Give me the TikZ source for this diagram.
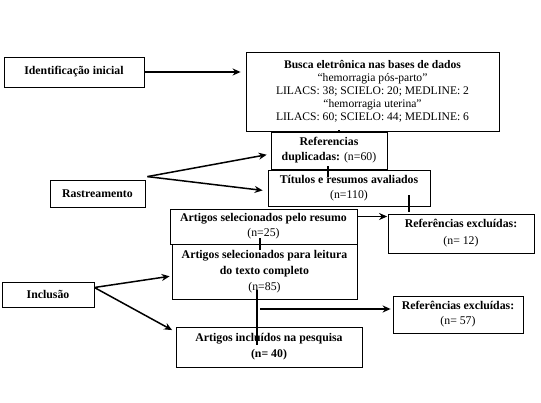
\documentclass[tikz,border=0pt]{standalone}
\usepackage{fontspec}
\setmainfont{Liberation Serif}
\usetikzlibrary{arrows.meta}
\begin{document}
\begin{tikzpicture}[x=1pt,y=-1pt,
  box/.style={draw,line width=0.8pt,inner sep=0pt,align=center,anchor=center,
    font=\fontsize{11.8}{15}\selectfont},
  arr/.style={line width=1.8pt,-{Stealth[length=8pt,width=7pt]}},
  thinarr/.style={line width=1.5pt,-{Stealth[length=8pt,width=7pt]}},
  tick/.style={line width=2.6pt}]
\useasboundingbox[fill=white] (0,0) rectangle (541,403);

\node[box,minimum width=140pt,minimum height=30pt] (id) at (74,72) {\textbf{Identificação inicial}};
\node[box,minimum width=253pt,minimum height=79pt,font=\fontsize{11.6}{13}\selectfont] (busca) at (372.5,91.5)
  {\textbf{Busca eletrônica nas bases de dados}\\“hemorragia pós-parto”\\LILACS: 38; SCIELO: 20; MEDLINE: 2\\“hemorragia uterina”\\LILACS: 60; SCIELO: 44; MEDLINE: 6};
\node[box,minimum width=116pt,minimum height=37pt] (dup) at (329,150.5)
  {\textbf{Referencias}\\\textbf{duplicadas:} (n=60)};
\node[box,fill=white,minimum width=162pt,minimum height=36pt] (tit) at (349,188)
  {\textbf{Títulos e resumos avaliados}\\(n=110)};
\node[box,minimum width=95pt,minimum height=27pt] (rast) at (97.5,193.5) {\textbf{Rastreamento}};
\node[box,minimum width=187pt,minimum height=35pt] (res) at (263.5,226.5)
  {\textbf{Artigos selecionados pelo resumo}\\(n=25)};
\node[box,minimum width=146pt,minimum height=39pt,font=\fontsize{11.8}{17}\selectfont] (exc1) at (461,233.5)
  {\textbf{Referências excluídas:}\\(n= 12)};
\node[box,minimum width=92pt,minimum height=25pt] (incl) at (48,294.5) {\textbf{Inclusão}};
\node[box,minimum width=185pt,minimum height=55pt,font=\fontsize{11.8}{16}\selectfont] (leit) at (264.5,271.5)
  {\textbf{Artigos selecionados para leitura}\\\textbf{do texto completo}\\(n=85)};
\node[box,minimum width=130pt,minimum height=37pt] (exc2) at (458,314.5)
  {\textbf{Referências excluídas:}\\(n= 57)};
\node[box,minimum width=186pt,minimum height=40pt,font=\fontsize{11.8}{16}\selectfont] (inc2) at (269,347)
  {\textbf{Artigos incluídos na pesquisa}\\\textbf{(n= 40)}};

% identification arrow
\draw[arr,shorten >=5pt] (id.east) -- (id.east -| busca.west);

% screening arrows
\coordinate (rs) at ([xshift=2pt,yshift=3pt]rast.north east);
\draw[thinarr,shorten >=4pt] (rs) -- ([yshift=-3.5pt]dup.west);
\draw[thinarr,shorten >=5pt] (rs) -- ([yshift=-3pt]tit.west);

% inclusion arrows
\coordinate (is) at ([yshift=7pt]incl.east);
\draw[thinarr,shorten >=2pt] (is) -- ([yshift=-4.5pt]leit.west);
\draw[thinarr,shorten >=4pt] (is) -- ([yshift=15pt]inc2.west);

% ticks
\coordinate (b1) at ([xshift=-33.5pt,yshift=1pt]busca.south);
\coordinate (b2) at (b1 |- dup.north);
\draw[tick] (b1) -- ([yshift=-1pt]b2);
\coordinate (d1) at ([xshift=-1pt,yshift=3pt]dup.south);
\coordinate (d2) at ([xshift=-1pt,yshift=-8pt]dup.south);
\draw[tick] (d1) -- (d2);
\coordinate (t1) at ([xshift=60pt,yshift=11pt]tit.south);
\coordinate (t2) at (t1 |- exc1.north);
\draw[tick,shorten >=2pt] (t1) -- (t2);
\coordinate (r1) at ([xshift=-3.5pt,yshift=6pt]res.south);
\coordinate (r2) at ([xshift=-4.5pt,yshift=-6pt]leit.north);
\draw[tick] (r1) -- (r2);

% resumo -> excluded 12
\coordinate (e0) at ([yshift=10pt]res.east);
\draw[arr,shorten >=0.5pt] (e0) -- (e0 -| exc1.west);

% leitura -> incluidos, and -> excluded 57
\coordinate (l1) at ([xshift=-7.5pt,yshift=9pt]leit.south);
\coordinate (l2) at ([xshift=-12pt,yshift=2pt]inc2.center);
\draw[tick] (l1) -- (l2);
\coordinate (h0) at ([yshift=5.5pt]exc2.west);
\coordinate (h1) at (l1 |- h0);
\draw[arr,shorten >=2pt] ([xshift=3pt]h1) -- (h0);
\end{tikzpicture}
\end{document}
